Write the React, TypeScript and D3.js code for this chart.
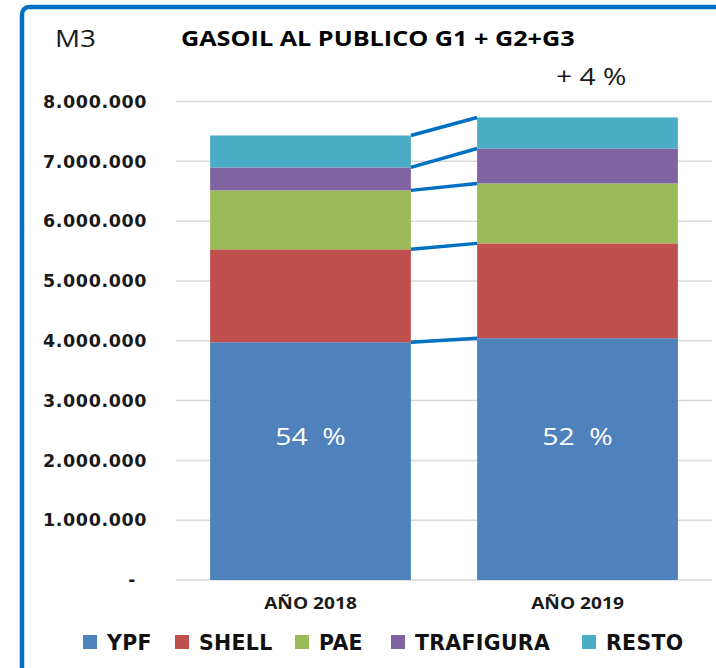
import React from "react";
import * as d3 from "d3";

const categories = ["AÑO 2018", "AÑO 2019"];
const seriesNames = ["YPF", "SHELL", "PAE", "TRAFIGURA", "RESTO"];
const ypf = [3975000, 4042000];
const shell = [1553000, 1586000];
const pae = [986000, 1002000];
const trafigura = [384000, 585000];
const resto = [534000, 518000];
const shareLabels = ["54  %", "52  %"];
const growthLabel = "+ 4 %";
const yTicks = [0, 1000000, 2000000, 3000000, 4000000, 5000000, 6000000, 7000000, 8000000];
const colors = ["#4F81BD", "#C0504D", "#9BBB59", "#8064A2", "#4BACC6"];

const W = 716;
const H = 668;

function SText(props: {
  x: number;
  y: number;
  sx?: number;
  anchor?: string;
  size: number;
  bold?: boolean;
  fill?: string;
  dy?: string;
  children: React.ReactNode;
}) {
  const { x, y, sx = 1.18, anchor = "start", size, bold, fill = "#1a1a1a", dy } = props;
  return (
    <text
      transform={`translate(${x},${y}) scale(${sx},1)`}
      textAnchor={anchor}
      dy={dy}
      fontFamily="Open Sans"
      fontWeight={bold ? "bold" : "normal"}
      fontSize={size}
      fill={fill}
      xmlSpace="preserve"
      style={{ whiteSpace: "pre" }}
    >
      {props.children}
    </text>
  );
}

export default function App() {
  const seriesValues = [ypf, shell, pae, trafigura, resto];
  const rows = categories.map((c, i) => {
    const r: any = { cat: c };
    seriesNames.forEach((s, k) => (r[s] = seriesValues[k][i]));
    return r;
  });
  const stacked = d3.stack().keys(seriesNames)(rows);

  const y = d3.scaleLinear().domain([0, 8000000]).range([580, 101.5]);
  const pi = 0.33 / 1.33;
  const x = d3
    .scaleBand()
    .domain(categories)
    .range([177, 711])
    .paddingInner(pi)
    .paddingOuter(pi / 2);
  const bw = x.bandwidth();
  const fmt = (v: number) =>
    v === 0 ? "-" : d3.format(",")(v).replace(/,/g, ".");

  const x0 = (x(categories[0]) as number) + bw;
  const x1 = x(categories[1]) as number;
  const legendX = [83, 175, 295, 391, 582];

  return (
    <svg width={W} height={H} style={{ position: "absolute", left: 0, top: 0 }}>
      <rect x={0} y={0} width={W} height={H} fill="#fff" />
      <rect
        x={22}
        y={7}
        width={900}
        height={900}
        rx={7}
        fill="none"
        stroke="#0070C0"
        strokeWidth={4.5}
      />
      {/* gridlines */}
      {yTicks.map((t) => (
        <line
          key={t}
          x1={176}
          x2={712}
          y1={y(t)}
          y2={y(t)}
          stroke="#D9D9D9"
          strokeWidth={1.5}
        />
      ))}
      {/* y tick labels */}
      {yTicks.map((t) => (
        <text
          key={"l" + t}
          x={t === 0 ? 136 : 147}
          y={y(t)}
          dy="0.36em"
          textAnchor="end"
          fontFamily="DejaVu Sans"
          fontWeight="bold"
          fontSize={t === 0 ? 17 : 17.5}
          letterSpacing={0.6}
          fill="#1a1a1a"
        >
          {fmt(t)}
        </text>
      ))}
      {/* bars */}
      {stacked.map((s, k) => (
        <g key={s.key} fill={colors[k]}>
          {s.map((d, i) => (
            <rect
              key={i}
              x={x(categories[i]) as number}
              y={y(d[1])}
              width={bw}
              height={y(d[0]) - y(d[1])}
            />
          ))}
        </g>
      ))}
      {/* connector lines */}
      {stacked.map((s) => (
        <line
          key={"c" + s.key}
          x1={x0}
          y1={y(s[0][1])}
          x2={x1}
          y2={y(s[1][1])}
          stroke="#0070C0"
          strokeWidth={3.5}
        />
      ))}
      {/* share labels */}
      {categories.map((c, i) => (
        <SText
          key={"s" + c}
          x={(x(c) as number) + bw / 2}
          y={y(2400000)}
          dy="0.36em"
          anchor="middle"
          size={24}
          fill="#fff"
        >
          {shareLabels[i]}
        </SText>
      ))}
      {/* x labels */}
      {categories.map((c) => (
        <SText
          key={"x" + c}
          x={(x(c) as number) + bw / 2}
          y={609}
          anchor="middle"
          size={16.5}
          sx={1.16}
          bold
        >
          {c}
        </SText>
      ))}
      {/* titles */}
      <SText x={55} y={47} size={24} sx={1.16}>
        M3
      </SText>
      <SText x={181} y={46} size={21} sx={1.2} bold fill="#000">
        GASOIL AL PUBLICO G1 + G2+G3
      </SText>
      <SText x={556} y={85} size={24} sx={1.18}>
        {growthLabel}
      </SText>
      {/* legend */}
      {seriesNames.map((s, k) => (
        <g key={"lg" + s}>
          <rect x={legendX[k]} y={635} width={14} height={14} fill={colors[k]} />
          <text
            x={legendX[k] + 24}
            y={650}
            fontFamily="DejaVu Sans"
            fontWeight="bold"
            fontSize={20.5}
            letterSpacing={0.3}
            fill="#111"
          >
            {s}
          </text>
        </g>
      ))}
    </svg>
  );
}
